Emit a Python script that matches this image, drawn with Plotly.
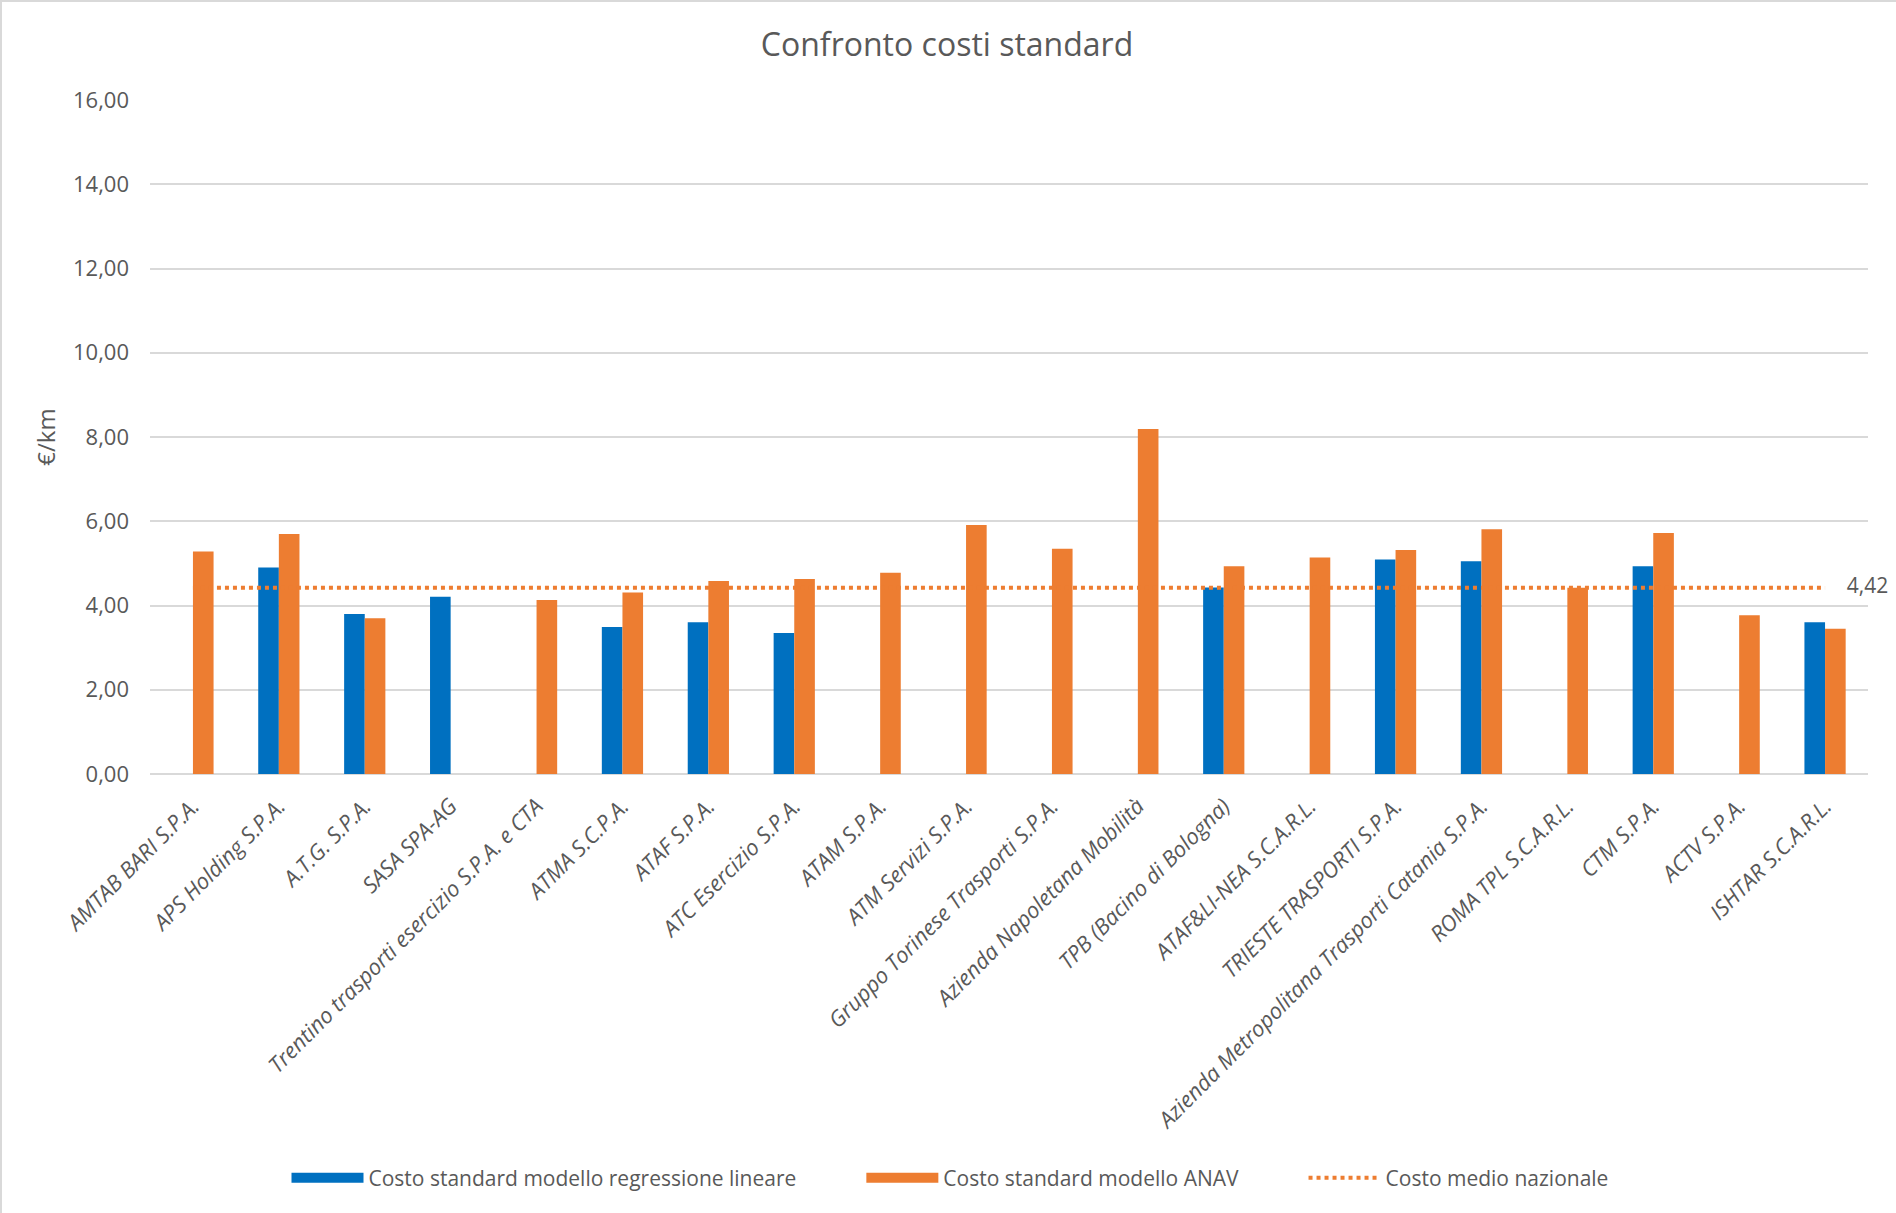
import plotly.graph_objects as go

categories = [
    "AMTAB BARI S.P.A.", "APS Holding S.P.A.", "A.T.G. S.P.A.", "SASA SPA-AG",
    "Trentino trasporti esercizio S.P.A. e CTA", "ATMA S.C.P.A.", "ATAF S.P.A.",
    "ATC Esercizio S.P.A.", "ATAM S.P.A.", "ATM Servizi S.P.A.",
    "Gruppo Torinese Trasporti S.P.A.", "Azienda Napoletana Mobilità",
    "TPB (Bacino di Bologna)", "ATAF&LI-NEA S.C.A.R.L.", "TRIESTE TRASPORTI S.P.A.",
    "Azienda Metropolitana Trasporti Catania S.P.A.", "ROMA TPL S.C.A.R.L.",
    "CTM S.P.A.", "ACTV S.P.A.", "ISHTAR S.C.A.R.L.",
]
costo_regressione = [None, 4.90, 3.80, 4.21, None, 3.49, 3.60, 3.35, None, None,
                     None, None, 4.43, None, 5.09, 5.05, None, 4.93, None, 3.60]
costo_anav = [5.28, 5.70, 3.70, None, 4.13, 4.31, 4.58, 4.63, 4.78, 5.91,
              5.35, 8.19, 4.93, 5.14, 5.32, 5.81, 4.42, 5.72, 3.77, 3.45]
costo_medio = 4.42
series_names = ["Costo standard modello regressione lineare",
                "Costo standard modello ANAV", "Costo medio nazionale"]
y_ticks = [0, 2, 4, 6, 8, 10, 12, 14, 16]

BLUE = "#0070C0"
ORANGE = "#ED7D31"
TEXT = "#595959"
GRID = "#D9D9D9"
FONT = "Open Sans"
PAD = "\u00a0" * 11  # spacing between legend entries

fig = go.Figure()
fig.add_trace(go.Bar(x=categories, y=costo_regressione, name=series_names[0],
                     marker=dict(color=BLUE, line=dict(width=0)),
                     showlegend=False, legendgroup="reg"))
fig.add_trace(go.Bar(x=categories, y=costo_anav, name=series_names[1],
                     marker=dict(color=ORANGE, line=dict(width=0)),
                     showlegend=False, legendgroup="anav"))
avg_line = [costo_medio] * len(categories)
labels = [""] * (len(categories) - 1) + ["\u00a0" * 4 + f"{costo_medio:.2f}".replace(".", ",")]
fig.add_trace(go.Scatter(x=categories, y=avg_line, name=series_names[2],
                         mode="lines+text", text=labels, textposition="middle right",
                         textfont=dict(family=FONT, size=21, color=TEXT),
                         line=dict(color=ORANGE, width=4, dash="dot"),
                         cliponaxis=False, showlegend=False, legendgroup="avg"))

# legend entries (wide swatches like the original)
fig.add_trace(go.Scatter(x=[None], y=[None], mode="lines", name=series_names[0] + PAD,
                         line=dict(color=BLUE, width=14), legendgroup="reg"))
fig.add_trace(go.Scatter(x=[None], y=[None], mode="lines", name=series_names[1] + PAD,
                         line=dict(color=ORANGE, width=14), legendgroup="anav"))
fig.add_trace(go.Scatter(x=[None], y=[None], mode="lines", name=series_names[2],
                         line=dict(color=ORANGE, width=4, dash="dot"), legendgroup="avg"))

W, H = 1896, 1213
L, R, T, B = 150, 28, 100, 439
pw, ph = W - L - R, H - T - B

def px_x(x):
    return (x - L) / pw

def px_y(y):
    return (H - B - y) / ph

fig.update_layout(
    width=W, height=H,
    margin=dict(l=L, r=R, t=T, b=B, autoexpand=False),
    paper_bgcolor="white", plot_bgcolor="white",
    separators=",.",
    font=dict(family=FONT, color=TEXT),
    title=dict(text="Confronto costi standard", x=0.4995, xanchor="center",
               xref="container", y=1 - 45 / H, yanchor="middle", yref="container",
               font=dict(family=FONT, size=32, color=TEXT)),
    barmode="group", bargap=0.52, bargroupgap=0,
    showlegend=True,
    legend=dict(orientation="h", x=950 / W, xanchor="center", xref="container",
                y=1 - 1178 / H, yanchor="middle", yref="container",
                font=dict(family=FONT, size=21, color=TEXT),
                itemwidth=72, traceorder="normal"),
    xaxis=dict(tickangle=-45, showgrid=False, showline=False, ticks="",
               range=[-0.5, len(categories) - 0.5], autorange=False,
               tickfont=dict(family=FONT, size=22, color=TEXT, style="italic"),
               automargin=False, ticklabelstandoff=14),
    yaxis=dict(range=[0, 16], tickvals=y_ticks, tickformat=".2f",
               showgrid=True, gridcolor=GRID, gridwidth=2,
               zeroline=True, zerolinecolor=GRID, zerolinewidth=2,
               showline=False, ticks="",
               tickfont=dict(family=FONT, size=22, color=TEXT),
               ticklabelstandoff=20, automargin=False,
               title=dict(text="€/km", standoff=10,
                          font=dict(family=FONT, size=24, color=TEXT))),
    shapes=[
        dict(type="line", xref="paper", yref="paper", x0=px_x(0), x1=px_x(W),
             y0=px_y(1), y1=px_y(1), line=dict(color=GRID, width=2)),
        dict(type="line", xref="paper", yref="paper", x0=px_x(1), x1=px_x(1),
             y0=px_y(0), y1=px_y(H), line=dict(color=GRID, width=2)),
    ],
)

fig.write_html("out.html")
